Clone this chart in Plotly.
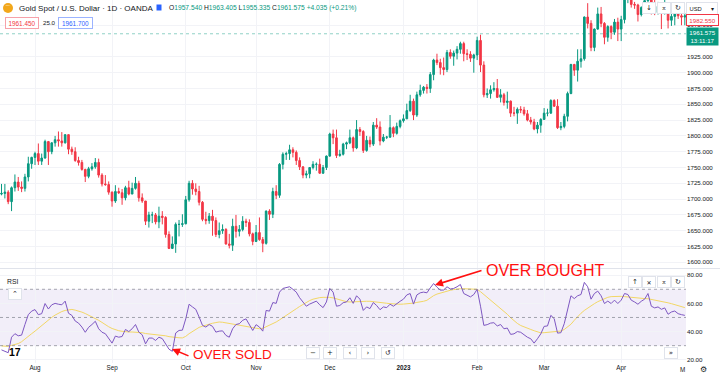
import pandas as pd
import plotly.graph_objects as go

# ---------------- data ----------------
dates = [d.strftime("%Y-%m-%d") for d in pd.bdate_range("2022-07-18", "2023-04-28")]

opens = [
    1708,1709,1711,1696,1718,1727,1719,1717,1735,1756,
    1766,1772,1760,1765,1791,1775,1789,1794,1792,1789,1802,1779,1775,1761,1758,1747,1736,1748,1751,1758,1738,1724,1723,
    1711,1697,1712,1710,1702,1718,1708,1717,1725,1702,1697,1665,1675,1675,1664,1673,1671,1644,1622,1629,1660,1660,
    1661,1699,1725,1716,1712,1695,1668,1666,1673,1666,1644,1650,1652,1629,1627,1657,1649,1652,1665,1663,1645,
    1633,1647,1636,1630,1681,1676,1712,1706,1755,1771,1772,1778,1774,1761,1751,1738,1740,1750,1755,1755,1741,1750,
    1768,1803,1797,1769,1771,1787,1789,1797,1781,1810,1807,1777,1793,1787,1817,1814,1792,1798,1798,1813,1804,1815,
    1824,1827,1840,1855,1833,1865,1872,1877,1875,1897,1920,1916,1908,1905,1932,1926,1931,1937,1946,1930,1929,1923,
    1928,1951,1912,1865,1867,1873,1875,1861,1865,1853,1855,1836,1836,1842,1841,1835,1825,1822,1811,1817,
    1826,1836,1836,1856,1847,1813,1815,1831,1867,1913,1904,1918,1922,1988,1978,1940,1969,1993,1978,1956,1973,1964,1980,
    1969,1984,2020,2021,2008,2007,1992,2003,2014,2040,2004,1995,2005,1995,2004,1983,1989,1998,1990,1988,
]
highs = [
    1724,1724,1714,1720,1739,1735,1728,1740,1767,1767,
    1775,1788,1772,1794,1792,1790,1800,1807,1806,1802,1802,1783,1782,1767,1762,1748,1751,1757,1765,1764,1741,1738,1728,
    1712,1722,1718,1716,1721,1729,1726,1735,1729,1709,1697,1680,1680,1678,1688,1681,1673,1649,1641,1663,1667,1676,
    1705,1729,1730,1725,1721,1697,1680,1678,1683,1671,1663,1660,1654,1645,1669,1675,1659,1673,1669,1668,1647,
    1659,1671,1640,1682,1684,1718,1722,1757,1774,1775,1786,1782,1777,1766,1752,1745,1750,1760,1758,1764,1754,1769,
    1805,1810,1810,1778,1789,1791,1810,1799,1825,1814,1809,1800,1799,1822,1828,1823,1803,1800,1833,1815,1821,1826,
    1834,1851,1865,1859,1870,1881,1879,1882,1901,1922,1930,1922,1924,1936,1937,1935,1942,1949,1949,1937,1934,1930,
    1957,1960,1918,1875,1880,1885,1890,1874,1868,1870,1856,1846,1845,1847,1846,1841,1830,1827,1822,1828,
    1844,1843,1858,1858,1858,1822,1835,1870,1914,1914,1937,1937,1989,2010,1983,1970,2003,2004,1980,1975,1975,1985,1987,
    1990,2025,2032,2024,2012,2009,2005,2022,2048,2048,2015,2012,2009,2015,2008,1994,2000,2009,2003,1994,
]
lows = [
    1706,1701,1692,1681,1712,1713,1711,1712,1728,1748,
    1754,1754,1754,1764,1754,1771,1783,1783,1783,1788,1771,1770,1759,1753,1745,1727,1733,1745,1748,1734,1720,1721,1707,
    1688,1694,1708,1691,1698,1706,1708,1715,1696,1694,1659,1655,1662,1660,1654,1660,1639,1621,1621,1615,1641,1656,
    1660,1696,1707,1706,1690,1665,1660,1661,1642,1640,1638,1645,1628,1622,1618,1639,1641,1649,1656,1641,1627,
    1632,1634,1616,1628,1667,1670,1700,1702,1747,1762,1762,1766,1754,1746,1733,1733,1733,1747,1745,1740,1740,1746,
    1767,1787,1765,1767,1769,1779,1787,1775,1779,1800,1773,1775,1782,1784,1811,1785,1790,1795,1797,1798,1802,1812,
    1821,1827,1838,1825,1830,1862,1867,1867,1868,1888,1912,1897,1896,1901,1922,1911,1921,1930,1918,1920,1917,1900,
    1920,1901,1861,1860,1859,1870,1860,1853,1848,1843,1830,1831,1819,1836,1832,1823,1818,1809,1804,1805,
    1826,1831,1835,1846,1811,1809,1812,1823,1866,1895,1886,1908,1919,1970,1934,1934,1968,1972,1945,1949,1953,1960,1950,
    1950,1978,2010,2003,2001,1981,1989,1999,2010,1992,1991,1992,1969,1992,1970,1974,1975,1985,1975,1975,
]
closes = [
    1709,1711,1696,1718,1727,1719,1717,1735,1756,1766,
    1772,1760,1765,1791,1775,1789,1794,1792,1789,1802,1779,1775,1761,1758,1747,1736,1748,1751,1758,1738,1724,1723,1711,
    1697,1712,1710,1702,1718,1708,1717,1725,1702,1697,1665,1675,1675,1664,1673,1671,1644,1622,1629,1660,1660,1661,
    1699,1725,1716,1712,1695,1668,1666,1673,1666,1644,1650,1652,1629,1627,1657,1649,1652,1665,1663,1645,1633,
    1647,1636,1630,1681,1676,1712,1706,1755,1771,1772,1778,1774,1761,1751,1738,1740,1750,1755,1755,1741,1750,1768,
    1803,1797,1769,1771,1787,1789,1797,1781,1810,1807,1777,1793,1787,1817,1814,1792,1798,1798,1813,1804,1815,1824,
    1827,1840,1855,1833,1865,1872,1877,1875,1897,1920,1916,1908,1905,1932,1926,1931,1937,1946,1930,1929,1923,1928,
    1951,1912,1865,1867,1873,1875,1861,1865,1853,1855,1836,1836,1842,1841,1835,1825,1822,1811,1817,1826,
    1836,1836,1856,1847,1813,1815,1831,1867,1913,1904,1918,1922,1988,1978,1940,1969,1993,1978,1956,1973,1964,1980,1969,
    1984,2020,2021,2008,2007,1992,2003,2014,2040,2004,1995,2005,1995,2004,1983,1989,1998,1990,1988,1990,
]
rsi = [
    27,26,25,36,38.5,37,37.5,45,52,54.5,
    55.6,52,52.7,59.9,56,59,60,59.4,59,61.6,53,51.5,47.5,46,43.2,39.5,43,45,47.3,42,39.5,38.5,35.5,
    31.8,36.8,36,36.5,41.5,40,42,45,39.6,37.7,31.3,35.4,35.4,33.7,36,35,31,27.5,26,39,40.8,41,
    49,59.4,57.5,55.8,50.3,44.4,43.2,45,43.7,39.6,40.3,40.5,37.3,36,42,45,45.6,48,49,44.4,40.8,
    44.9,43.2,40.3,55,54.5,60.6,60,68,70.6,71,71.8,70,68,64,61,58,59.5,60.5,61.6,59,57,61,
    70.6,68,58,58.5,60.5,61,64,60,65.4,63,55,57.5,56.3,60.6,58.5,55.5,57.5,57,59.4,58,59.9,61.5,
    63,66,67,59.5,66,67.5,68,67.5,71,74.1,71.5,69.4,69.5,71.8,70.2,70.6,71.8,73.4,67,65.8,64.6,66.3,
    70,58,44.4,44.9,46,46.3,44,45,42,42.5,38,38.4,40,39.5,37.7,36,34.9,31.8,34.9,38.4,
    43.7,44,51.5,49.2,38.9,39.2,45.6,55.1,65.4,63.4,65.4,66.3,74.9,71.8,63,67,68.7,65.4,59.9,61.6,59.9,62.3,59.9,
    62.3,67,66.3,62.3,61,59.4,61.5,63,67,58,56.8,57.5,55.8,56.8,52.3,53.9,54.6,52.7,52,51.5,
]
rsi_ma = [
    29.8,29.5,29.5,30.2,30.8,31.5,32.8,34.5,36.5,38.5,
    40.3,42.3,44.3,46.3,48.5,50.1,51.7,53.2,54.2,55,55.6,55.7,55.2,54.6,53.8,52.8,51.7,50.4,49.3,48,46.5,44.8,43.4,
    42.2,41.2,40.6,40.2,39.8,39.7,39.7,39.7,39.5,39.2,38.6,38.4,38.2,38,37.8,37.5,37,36.4,36,35.8,35.6,35.5,
    36.6,38.5,40,41.5,43,43.8,44.6,45.4,45.9,46.4,46.8,46.6,46.2,45.8,45.4,45,44.6,44.2,43.6,43.3,42.9,
    42.5,42,42.3,43.3,44.5,45.7,46.8,48.3,50,51.5,53,54.7,56.2,57.8,59.3,61,62,63,63.8,64.1,64.3,64.5,
    64.3,63.9,63.3,62.3,61.6,61.2,61,61.2,61.4,61.5,61.4,61.5,61.5,61.3,61.1,61,60.5,60.1,59.8,59.5,59.4,59.4,
    59.5,59.6,59.8,60.2,60.7,61,61.5,62.2,64,65.5,66.6,67.4,68,68.8,69.3,69.8,70.2,70.4,70.4,70.4,70.4,70.2,
    70,68.3,66.3,64.5,62.5,60.6,58.7,56.6,54.5,52.3,49.8,47.6,45.8,44.3,43.2,42.4,41.5,40.6,39.6,39.1,
    39.2,39.5,39.7,39.9,40.1,40.4,41.5,43.3,45.2,48,50.6,53,55,56.8,58.3,59.8,61.2,62.3,63.4,64.3,64.8,65,65.2,
    65,64.8,64.5,64.2,64,63.8,63.6,63.4,63.3,62.9,62.5,62.1,61.6,61,60.4,59.8,59.2,58.6,57.8,57,
]
assert len(dates) == len(opens) == len(highs) == len(lows) == len(closes) == len(rsi) == len(rsi_ma), \
    (len(dates), len(opens), len(highs), len(lows), len(closes), len(rsi), len(rsi_ma))

month_ticks = ["2022-08-01", "2022-09-01", "2022-10-03", "2022-11-01", "2022-12-01",
               "2023-01-02", "2023-02-01", "2023-03-01", "2023-04-03"]
month_labels = ["Aug", "Sep", "Oct", "Nov", "Dec", "<b>2023</b>", "Feb", "Mar", "Apr"]
# 1950 is hidden behind the last-price label in the reference, so it is not listed
price_ticks = [1600, 1625, 1650, 1675, 1700, 1725, 1750, 1775, 1800, 1825, 1850, 1875, 1900, 1925, 1975]
rsi_ticks = [20, 40, 60, 80]
last_price = 1961.575
alert_price = 1982.550

# ---------------- style ----------------
GREEN = "#089981"
RED = "#f23645"
PURPLE = "#7e57c2"
YELLOW = "#f3d766"
GRID = "#f2f3f7"
TXT = "#131722"
FONT = "Liberation Sans"

PW, PH = 686.0, 363.0


def PX(x):
    return x / PW


def PY(y):
    return 1 - y / PH


fig = go.Figure()
fig.add_trace(go.Candlestick(
    x=dates, open=opens, high=highs, low=lows, close=closes,
    increasing=dict(line=dict(color=GREEN, width=1), fillcolor=GREEN),
    decreasing=dict(line=dict(color=RED, width=1), fillcolor=RED),
    whiskerwidth=0, xaxis="x", yaxis="y", hoverinfo="skip", showlegend=False))
fig.add_trace(go.Scatter(x=dates, y=rsi_ma, mode="lines", line=dict(color=YELLOW, width=1),
                         xaxis="x", yaxis="y2", hoverinfo="skip", showlegend=False))
fig.add_trace(go.Scatter(x=dates, y=rsi, mode="lines", line=dict(color=PURPLE, width=1),
                         xaxis="x", yaxis="y2", hoverinfo="skip", showlegend=False))

shapes = [
    dict(type="rect", xref="x domain", x0=0, x1=1, yref="y2", y0=30, y1=70,
         fillcolor="rgba(126,87,194,0.10)", line=dict(width=0), layer="below"),
]
for lvl in (70, 50, 30):
    shapes.append(dict(type="line", xref="x domain", x0=0, x1=1, yref="y2", y0=lvl, y1=lvl,
                       line=dict(color="rgba(120,123,134,0.65)", width=1, dash="3px,3px"), layer="above"))
shapes += [
    dict(type="line", xref="x domain", x0=0, x1=1, yref="y", y0=last_price, y1=last_price,
         line=dict(color="rgba(8,153,129,0.45)", width=1, dash="dot"), layer="below"),
    dict(type="line", xref="paper", x0=0, x1=720 / PW, yref="paper", y0=PY(268.5), y1=PY(268.5),
         line=dict(color="#e0e3eb", width=1)),
    # gold icon
    dict(type="circle", xref="paper", yref="paper", x0=PX(3), x1=PX(13), y0=PY(13), y1=PY(3),
         fillcolor="#f2a71b", line=dict(width=0)),
    # flag
    dict(type="rect", xref="paper", yref="paper", x0=PX(156.5), x1=PX(161.5), y0=PY(10.5), y1=PY(4.5),
         fillcolor="#2962ff", line=dict(width=0)),
]

ann = []


def text(x, y, s, size=6.5, color=TXT, xanchor="left", **kw):
    ann.append(dict(x=PX(x), y=PY(y), xref="paper", yref="paper", text=s, showarrow=False,
                    xanchor=xanchor, yanchor="middle", font=dict(size=size, color=color, family=kw.pop("family", FONT)),
                    **kw))


def button(x, y, s, w=12, h=10, size=7):
    ann.append(dict(x=PX(x), y=PY(y), xref="paper", yref="paper", text=s, showarrow=False,
                    xanchor="center", yanchor="middle", width=w, height=h,
                    bgcolor="white", bordercolor="#e0e3eb", borderwidth=1, borderpad=0,
                    font=dict(size=size, color=TXT, family="DejaVu Sans")))


# header
text(8, 8.3, "⌒", size=6, color="white", xanchor="center")
text(16.5, 8, "Gold Spot / U.S. Dollar · 1D · OANDA", size=8)
g = lambda v: f"<span style='color:{GREEN}'>{v}</span>"
text(167, 8, "O" + g("1957.540") + " H" + g("1963.405") + " L" + g("1955.335") + " C" + g("1961.575") +
     " " + g("+4.035 (+0.21%)"), size=6.7)
ann.append(dict(x=PX(22), y=PY(23), xref="paper", yref="paper", text="1961.450", showarrow=False,
                xanchor="center", yanchor="middle", width=32, height=10, bgcolor="white",
                bordercolor="#f7a1a9", borderwidth=1, borderpad=0, font=dict(size=6.4, color=RED, family=FONT)))
text(49.5, 23, "25.0", size=6.2, xanchor="center")
ann.append(dict(x=PX(75.5), y=PY(23), xref="paper", yref="paper", text="1961.700", showarrow=False,
                xanchor="center", yanchor="middle", width=33, height=10, bgcolor="white",
                bordercolor="#9bb3ff", borderwidth=1, borderpad=0, font=dict(size=6.4, color="#2962ff", family=FONT)))

# right-top controls
ann.append(dict(x=PX(702), y=PY(8), xref="paper", yref="paper", text="USD      ▾", showarrow=False,
                xanchor="center", yanchor="middle", width=30, height=11, bgcolor="white",
                bordercolor="#e0e3eb", borderwidth=1, borderpad=0, font=dict(size=5.8, color=TXT, family=FONT)))
button(648.5, 8, "↓")
button(663.5, 8, "⌅")
button(677.5, 8, "↻")

# price labels on the scale
ann.append(dict(x=PX(702.5), y=PY(19.5), xref="paper", yref="paper", text="1982.550", showarrow=False,
                xanchor="center", yanchor="middle", width=31, height=10, bgcolor="white",
                bordercolor=RED, borderwidth=1, borderpad=0, font=dict(size=6.2, color=RED, family=FONT)))
ann.append(dict(x=PX(702.5), y=PY(36.5), xref="paper", yref="paper", text="1961.575<br>13:11:17",
                showarrow=False, xanchor="center", yanchor="middle", width=31, height=17, bgcolor=GREEN,
                borderpad=0, font=dict(size=6.2, color="white", family=FONT)))

# RSI pane header & controls
text(5, 281.5, "RSI", size=6.8)
button(15, 294, "⌃", w=12, h=10, size=7)
button(634.5, 281.5, "↑")
button(649, 281.5, "✕", size=6)
button(663.5, 281.5, "⌅")
button(677.5, 281.5, "↻")

# bottom navigation buttons
button(313, 353, "−")
button(329.5, 353, "+")
button(350, 353, "‹")
button(367.5, 353, "›")
button(388, 353, "↺")
button(671, 353, "»")

# TradingView logo
text(15, 351.5, "<b>17</b>", size=10.5, color="#000000", xanchor="center")

# partial May label and gear
text(682.5, 369.5, "M", size=6.3, xanchor="center")
text(703, 369, "⚙", size=8, xanchor="center", family="DejaVu Sans")

# call-outs
text(484, 270.5, "OVER BOUGHT", size=16, color="#ff1010")
ann.append(dict(x=PX(435), y=PY(285), xref="paper", yref="paper", ax=48, ay=-15, axref="pixel", ayref="pixel",
                text="", showarrow=True, arrowhead=2, arrowsize=1, arrowwidth=1.6, arrowcolor="#ff1010"))
text(191, 354.5, "OVER SOLD", size=13.5, color="#ff1010")
ann.append(dict(x=PX(172), y=PY(349), xref="paper", yref="paper", ax=18, ay=7.5, axref="pixel", ayref="pixel",
                text="", showarrow=True, arrowhead=2, arrowsize=1, arrowwidth=1.6, arrowcolor="#ff1010"))

fig.update_layout(
    width=720, height=375,
    margin=dict(l=0, r=34, t=0, b=12),
    paper_bgcolor="white", plot_bgcolor="white",
    showlegend=False, hovermode=False,
    font=dict(family=FONT, color=TXT),
    xaxis=dict(type="category", range=[-0.45, 204.35], anchor="y2", tickmode="array",
               tickvals=month_ticks, ticktext=month_labels, showgrid=True, gridcolor=GRID, gridwidth=1,
               zeroline=False, showline=False, ticks="", tickfont=dict(size=6.3, color=TXT),
               rangeslider=dict(visible=False), fixedrange=True),
    yaxis=dict(domain=[1 - 268 / PH, 1], range=[1591, 2015], side="right", anchor="x",
               tickmode="array", tickvals=price_ticks, tickformat=".3f", showgrid=True, gridcolor=GRID,
               zeroline=False, showline=False, ticks="", tickfont=dict(size=6.2, color=TXT)),
    yaxis2=dict(domain=[0, 1 - 269 / PH], range=[17.7, 84.4], side="right", anchor="x",
                tickmode="array", tickvals=rsi_ticks, tickformat=".2f", showgrid=True, gridcolor=GRID,
                zeroline=False, showline=False, ticks="", tickfont=dict(size=6.2, color=TXT)),
    shapes=shapes,
    annotations=ann,
)

fig.write_html("out.html", config={"displayModeBar": False},
               post_script="document.body.style.margin='0px';document.body.style.overflow='hidden';")
